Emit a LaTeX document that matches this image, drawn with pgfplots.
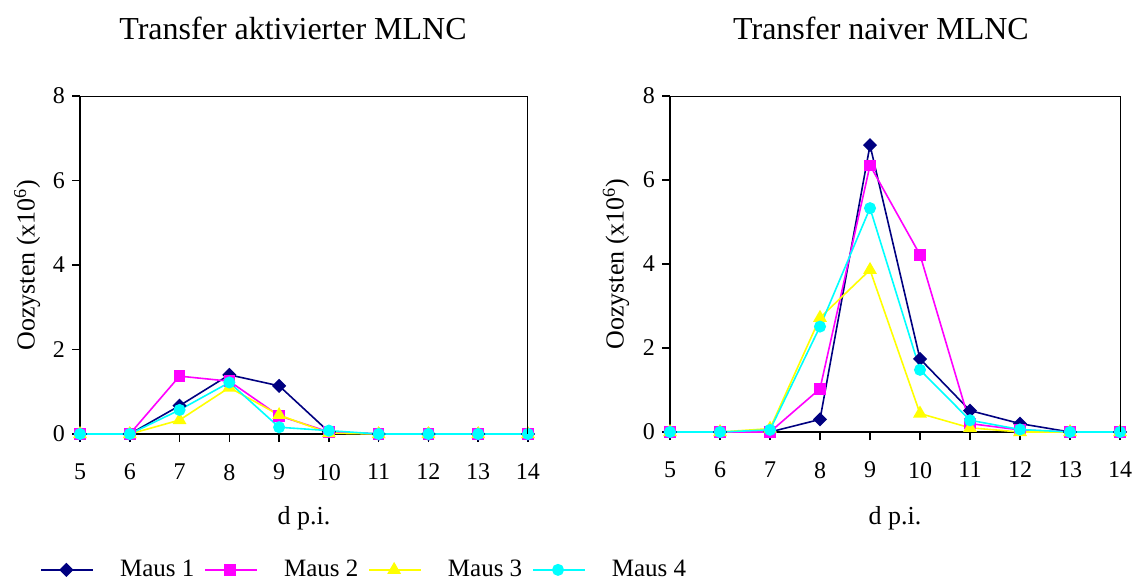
\documentclass[border=0pt]{standalone}
\usepackage{fontspec}
\setmainfont{Liberation Serif}
\usepackage{pgfplots}
\pgfplotsset{compat=1.18}
\definecolor{mnavy}{HTML}{000080}
\definecolor{mmag}{HTML}{FF00FF}
\definecolor{myel}{HTML}{FFFF00}
\definecolor{mcyan}{HTML}{00FFFF}
\pgfplotsset{
  myaxis/.style={
    scale only axis,
    xmin=5, xmax=14, ymin=0, ymax=8,
    xtick={5,...,14}, ytick={0,2,4,6,8},
    tick align=outside, xtick pos=bottom, ytick pos=left,
    major tick length=4pt,
    axis x line*=bottom, axis y line*=left,
    axis line style={line width=1.1pt},
    tick style={black, line width=0.8pt},
    /pgf/number format/assume math mode=true,
    tick label style={font=\fontsize{12}{14}\selectfont},
    xticklabel style={yshift=-7.5pt},
    label style={font=\fontsize{13}{15}\selectfont},
    xlabel={d p.i.},
    ylabel={Oozysten (x10\textsuperscript{6})},
    clip=false,
    after end axis/.code={\draw[line width=0.5pt] (rel axis cs:0,1) -- (rel axis cs:1,1) -- (rel axis cs:1,0);},
    every axis plot/.append style={line width=0.8pt},
  },
  m1/.style={color=mnavy, mark=square*, mark size=2.1pt, mark options={solid, rotate=45, fill=mnavy, draw=mnavy}},
  m2/.style={color=mmag, mark=square*, mark size=2.5pt, mark options={solid, fill=mmag, draw=mmag}},
  m3/.style={color=myel, mark=triangle*, mark size=3.2pt, mark options={solid, fill=myel, draw=myel}},
  m4/.style={color=mcyan, mark=*, mark size=2.6pt, mark options={solid, fill=mcyan, draw=mcyan}},
}
\begin{document}
\begin{tikzpicture}
\path[use as bounding box] (0,0) rectangle (568pt,290pt);
\begin{axis}[myaxis,
  at={(40pt,73pt)}, anchor=south west,
  width=224pt, height=169pt,
  xlabel style={at={(axis description cs:0.5,0)}, anchor=center, yshift=-42pt},
  ylabel style={at={(axis description cs:-0.118,0.5)}, anchor=center},
  legend columns=4,
  legend style={at={(axis description cs:-0.089,-0.402)}, anchor=west, draw=none, fill=none,
    inner sep=0pt, font=\fontsize{12.5}{14}\selectfont,
    nodes={inner xsep=0pt, inner ysep=1pt},
    /tikz/every odd column/.append style={column sep=13pt},
    /tikz/every even column/.append style={column sep=5pt}},
  legend image code/.code={\draw[#1, mark=none] (0pt,0pt) -- (26pt,0pt); \draw[#1] plot coordinates {(12.5pt,0pt)};},
]
\addplot[m1] coordinates {(5,0) (6,0) (7,0.67) (8,1.40) (9,1.14) (10,0.05) (11,0) (12,0) (13,0) (14,0)};
\addplot[m2] coordinates {(5,0) (6,0) (7,1.37) (8,1.25) (9,0.43) (10,0.05) (11,0) (12,0) (13,0) (14,0)};
\addplot[m3] coordinates {(5,0) (6,0) (7,0.33) (8,1.10) (9,0.45) (10,0.02) (11,0) (12,0) (13,0) (14,0)};
\addplot[m4] coordinates {(5,0) (6,0) (7,0.57) (8,1.22) (9,0.16) (10,0.08) (11,0) (12,0) (13,0) (14,0)};
\legend{Maus 1, Maus 2, Maus 3, Maus 4}
\end{axis}
\begin{axis}[myaxis,
  at={(335pt,74pt)}, anchor=south west,
  width=225pt, height=168pt,
  xlabel style={at={(axis description cs:0.5,0)}, anchor=center, yshift=-43pt},
  ylabel style={at={(axis description cs:-0.12,0.5)}, anchor=center},
]
\addplot[m1] coordinates {(5,0) (6,0) (7,0) (8,0.30) (9,6.83) (10,1.74) (11,0.51) (12,0.20) (13,0) (14,0)};
\addplot[m2] coordinates {(5,0) (6,0) (7,0) (8,1.03) (9,6.35) (10,4.22) (11,0.20) (12,0.05) (13,0) (14,0)};
\addplot[m3] coordinates {(5,0) (6,0) (7,0.08) (8,2.72) (9,3.86) (10,0.44) (11,0.10) (12,0) (13,0) (14,0)};
\addplot[m4] coordinates {(5,0) (6,0) (7,0.05) (8,2.51) (9,5.33) (10,1.48) (11,0.28) (12,0.06) (13,0) (14,0)};
\end{axis}
\node[font=\fontsize{16}{19}\selectfont] at (146.5pt,276pt) {Transfer aktivierter MLNC};
\node[font=\fontsize{16}{19}\selectfont] at (440.5pt,276pt) {Transfer naiver MLNC};
\end{tikzpicture}
\end{document}
